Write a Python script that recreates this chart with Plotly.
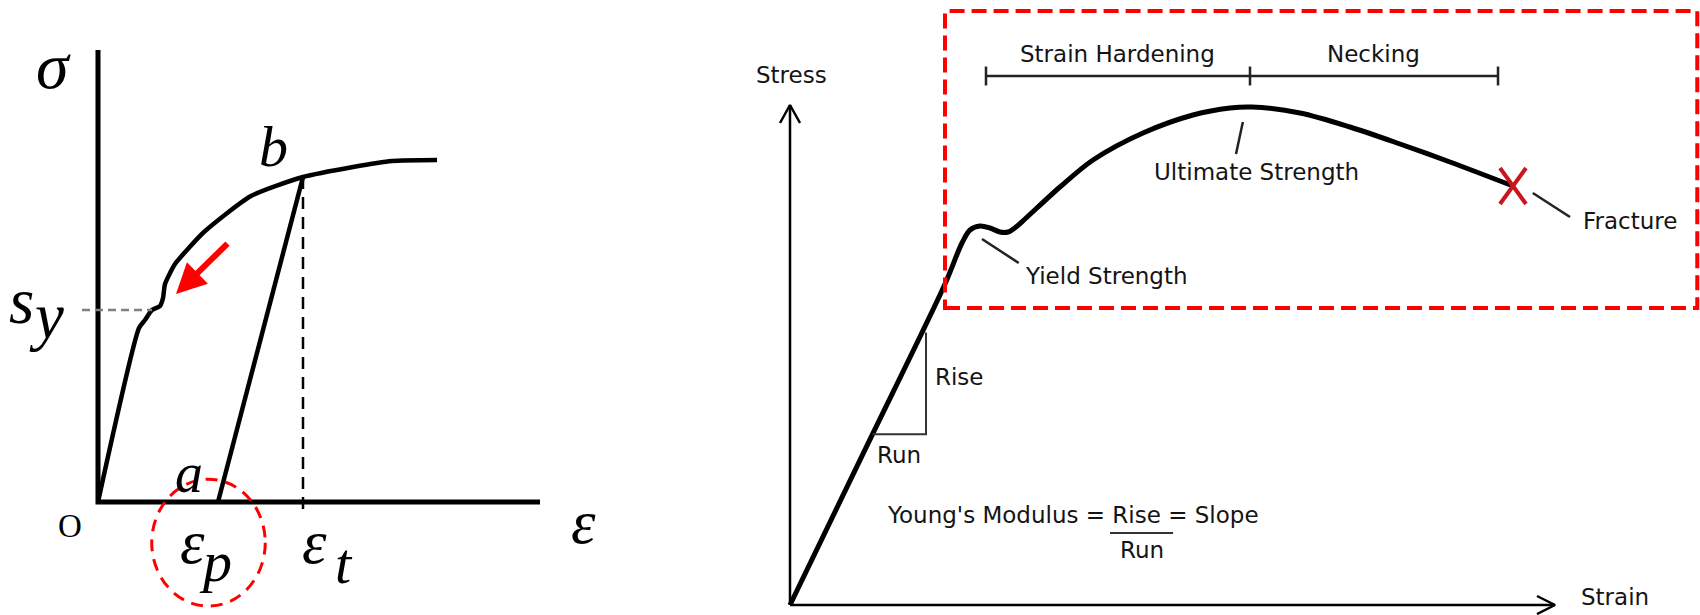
import plotly.graph_objects as go

# ---------------- Left panel: loading / unloading (normalised units) ----------------
left_strain = [0, 0.0928, 0.1063, 0.1222, 0.1403, 0.1471, 0.1516, 0.1742, 0.2014,
               0.2398, 0.3462, 0.4638, 0.5769, 0.6652, 0.7670]
left_stress = [0, 0.3850, 0.4027, 0.4248, 0.4336, 0.4513, 0.4823, 0.5265, 0.5575,
               0.5973, 0.6770, 0.7190, 0.7412, 0.7544, 0.7566]
yield_left = 0.4248                  # s_y level
b_strain, b_stress = 0.4638, 0.7190  # point b
a_strain = 0.2715                    # point a (plastic strain)
unload_strain = [b_strain, a_strain]
unload_stress = [b_stress, 0.0]

# ---------------- Right panel: engineering stress-strain curve ----------------
right_strain = [0, 0.10, 0.2026, 0.2248, 0.2353, 0.2484, 0.2614, 0.2745, 0.2850,
                0.2954, 0.3072, 0.3529, 0.3961, 0.4614, 0.5268, 0.5752, 0.6039,
                0.6667, 0.7320, 0.7974, 0.8627, 0.9451]
right_stress = [0, 0.3167, 0.642, 0.724, 0.750, 0.758, 0.754, 0.746, 0.746,
                0.756, 0.772, 0.836, 0.890, 0.944, 0.980, 0.994, 0.996,
                0.984, 0.956, 0.922, 0.886, 0.838]
young_slope = 3.167
run_strain = [0.1078, 0.1778]              # run segment of the slope triangle
bracket_strain = [0.2562, 0.6013, 0.9255]  # strain hardening | necking limits
bracket_level = 1.058

BLACK = "#000000"
TXT = "#141414"
RED = "#ff0000"
DARKRED = "#c8161d"

fig = go.Figure()

# ---- Left panel axes ----
fig.add_trace(go.Scatter(x=[0, 0, 1.0], y=[1.0, 0, 0], mode="lines",
                         line=dict(color=BLACK, width=5), xaxis="x", yaxis="y",
                         hoverinfo="skip"))
# loading curve
fig.add_trace(go.Scatter(x=left_strain, y=left_stress, mode="lines",
                         line=dict(color=BLACK, width=4.5, shape="spline", smoothing=0.6),
                         xaxis="x", yaxis="y", hoverinfo="skip"))
# unloading line b -> a
fig.add_trace(go.Scatter(x=unload_strain, y=unload_stress, mode="lines",
                         line=dict(color=BLACK, width=4.5), xaxis="x", yaxis="y",
                         hoverinfo="skip"))
# dashed lines
fig.add_shape(type="line", xref="x", yref="y", x0=b_strain, x1=b_strain,
              y0=b_stress, y1=-0.0177, line=dict(color=BLACK, width=2.5, dash="12px,8px"))
fig.add_shape(type="line", xref="x", yref="y", x0=-0.0362, x1=0.1222,
              y0=yield_left, y1=yield_left, line=dict(color="#808080", width=2.5, dash="8px,5px"))
# red dashed circle around eps_p
fig.add_shape(type="circle", xref="x", yref="y", x0=0.1216, x1=0.3784,
              y0=-0.2303, y1=0.0504, line=dict(color=RED, width=3, dash="12px,8px"))

# ---- Right panel axes ----
fig.add_trace(go.Scatter(x=[0, 0, None, 1.0, 0], y=[1.0, 0, None, 0, 0], mode="lines",
                         line=dict(color=BLACK, width=2.5), xaxis="x2", yaxis="y2",
                         hoverinfo="skip"))
# arrowheads (open chevrons)
ax_dx, ax_dy = 10 / 765, 18 / 500
ah_dx, ah_dy = 18 / 765, 9 / 500
fig.add_trace(go.Scatter(x=[-ax_dx, 0, ax_dx, None, 1 - ah_dx, 1.0, 1 - ah_dx],
                         y=[1 - ax_dy, 1.0, 1 - ax_dy, None, ah_dy, 0, -ah_dy],
                         mode="lines", line=dict(color=BLACK, width=2.5),
                         xaxis="x2", yaxis="y2", hoverinfo="skip"))
# stress-strain curve
fig.add_trace(go.Scatter(x=right_strain, y=right_stress, mode="lines",
                         line=dict(color=BLACK, width=5, shape="spline", smoothing=0.9),
                         xaxis="x2", yaxis="y2", hoverinfo="skip"))
# slope triangle
run_y = young_slope * run_strain[0]
rise_top = young_slope * run_strain[1] - 0.018
fig.add_trace(go.Scatter(x=[run_strain[0], run_strain[1], run_strain[1]],
                         y=[run_y, run_y, rise_top], mode="lines",
                         line=dict(color="#333333", width=2), xaxis="x2", yaxis="y2",
                         hoverinfo="skip"))
# bracket
tk = 0.019
bx, by = [], []
bx += [bracket_strain[0], bracket_strain[-1], None]
by += [bracket_level, bracket_level, None]
for s in bracket_strain:
    bx += [s, s, None]
    by += [bracket_level - tk, bracket_level + tk, None]
fig.add_trace(go.Scatter(x=bx, y=by, mode="lines", line=dict(color="#222222", width=2.5),
                         xaxis="x2", yaxis="y2", hoverinfo="skip"))
# leader lines
leaders_x = [0.251, 0.299, None, 0.592, 0.583, None, 0.971, 1.0196]
leaders_y = [0.732, 0.684, None, 0.966, 0.902, None, 0.824, 0.776]
fig.add_trace(go.Scatter(x=leaders_x, y=leaders_y, mode="lines",
                         line=dict(color="#222222", width=2.5), xaxis="x2", yaxis="y2",
                         hoverinfo="skip"))
# fracture X
fx, fy = right_strain[-1], right_stress[-1]
dx, dy = 13 / 765, 18 / 500
fig.add_trace(go.Scatter(x=[fx - dx, fx + dx, None, fx - dx, fx + dx],
                         y=[fy + dy, fy - dy, None, fy - dy, fy + dy], mode="lines",
                         line=dict(color=DARKRED, width=4), xaxis="x2", yaxis="y2",
                         hoverinfo="skip"))
# fraction bar under "Rise"
fig.add_shape(type="line", xref="x2", yref="y2", x0=0.4183, x1=0.5007, y0=0.144, y1=0.144,
              line=dict(color="#333333", width=2))
# red dashed box
fig.add_shape(type="rect", xref="x2", yref="y2", x0=0.2026, x1=1.186, y0=0.594, y1=1.188,
              line=dict(color=RED, width=4, dash="15px,7px"))

annotations = []


def txt(x, y, s, size, ref="1", family="Liberation Serif", italic=False, color=BLACK,
        xanchor="center"):
    text = f"<i>{s}</i>" if italic else s
    annotations.append(dict(x=x, y=y, xref="x" if ref == "1" else "x2",
                            yref="y" if ref == "1" else "y2", text=text, showarrow=False,
                            font=dict(family=family, size=size, color=color),
                            xanchor=xanchor, yanchor="middle"))


# left labels
txt(-0.100, 0.9668, "σ", 66, italic=True)
txt(0.398, 0.7876, "b", 58, italic=True)
txt(0.2059, 0.0642, "a", 56, italic=True)
txt(-0.0633, -0.0531, "O", 33)
txt(-0.1742, 0.4447, "s", 65, italic=True)
txt(-0.1154, 0.4115, "y", 65, italic=True)
txt(0.2149, -0.0885, "ε", 62, italic=True)
txt(0.2647, -0.1327, "p", 58, italic=True)
txt(0.4887, -0.0885, "ε", 62, italic=True)
txt(0.5566, -0.135, "t", 58, italic=True)
txt(1.0973, -0.0442, "ε", 62, italic=True)

# right labels
SANS = "DejaVu Sans"
txt(0.0026, 1.06, "Stress", 23, ref="2", family=SANS, color=TXT)
txt(1.0784, 0.016, "Strain", 23, ref="2", family=SANS, color=TXT)
txt(0.4281, 1.102, "Strain Hardening", 23, ref="2", family=SANS, color=TXT)
txt(0.7627, 1.102, "Necking", 23, ref="2", family=SANS, color=TXT)
txt(0.6098, 0.866, "Ultimate Strength", 23, ref="2", family=SANS, color=TXT)
txt(0.4137, 0.658, "Yield Strength", 23, ref="2", family=SANS, color=TXT)
txt(1.098, 0.768, "Fracture", 23, ref="2", family=SANS, color=TXT)
txt(0.2222, 0.456, "Rise", 23, ref="2", family=SANS, color=TXT)
txt(0.1431, 0.30, "Run", 23, ref="2", family=SANS, color=TXT)
txt(0.1242, 0.18, "Young's Modulus = Rise = Slope", 23, ref="2", family=SANS, color=TXT,
    xanchor="left")
txt(0.4601, 0.11, "Run", 23, ref="2", family=SANS, color=TXT)

# red arrow on left panel
annotations.append(dict(x=0.1765, y=0.460, ax=0.2964, ay=0.575, xref="x", yref="y",
                        axref="x", ayref="y", text="", showarrow=True, arrowhead=2,
                        arrowsize=1, arrowwidth=6, arrowcolor=RED))

fig.update_layout(
    width=1700, height=615, margin=dict(l=0, r=0, t=0, b=0),
    paper_bgcolor="white", plot_bgcolor="white", showlegend=False,
    annotations=annotations,
    xaxis=dict(domain=[0, 620 / 1700], range=[-98 / 442, 522 / 442], visible=False,
               fixedrange=True, anchor="y"),
    yaxis=dict(domain=[0, 1], range=[-113 / 452, 502 / 452], visible=False,
               fixedrange=True, anchor="x"),
    xaxis2=dict(domain=[620 / 1700, 1], range=[-170 / 765, 910 / 765], visible=False,
                fixedrange=True, anchor="y2"),
    yaxis2=dict(domain=[0, 1], range=[-10 / 500, 605 / 500], visible=False,
                fixedrange=True, anchor="x2"),
)

fig.write_html("out.html", config={"displayModeBar": False},
               post_script="document.body.style.margin='0px';document.body.style.overflow='hidden';")
